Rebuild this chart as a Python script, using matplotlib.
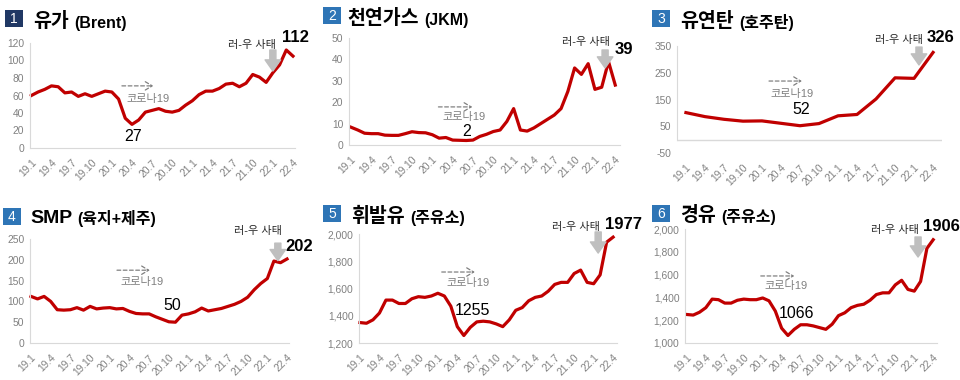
import matplotlib
matplotlib.use("Agg")
import matplotlib.pyplot as plt
from matplotlib.patches import Rectangle
import numpy as np

plt.rcParams['font.family'] = ['Liberation Sans', 'Noto Sans CJK KR', 'DejaVu Sans']
plt.rcParams['axes.unicode_minus'] = False

# ---- data ----
tick_labels = ['19.1', '19.4', '19.7', '19.10', '20.1', '20.4', '20.7', '20.10',
               '21.1', '21.4', '21.7', '21.10', '22.1', '22.4']

brent = [60, 64, 67, 71, 70, 63, 64, 59, 62, 59, 62, 65,
         64, 56, 34, 27, 32, 41, 43, 45, 42, 41, 43, 49,
         54, 61, 65, 65, 68, 73, 74, 70, 74, 84, 81, 75,
         86, 95, 112, 105]
jkm = [8.3, 7.0, 5.5, 5.3, 5.3, 4.6, 4.5, 4.5, 5.3, 6.2, 5.8, 5.7,
       4.8, 3.2, 3.5, 2.3, 2.2, 2.1, 2.3, 4.0, 5.0, 6.3, 7.0, 11,
       17, 7, 6.5, 8, 10, 12, 14, 17, 25, 36, 33, 38,
       26, 27, 39, 28]
coal = [101, 86, 76, 69, 70, 61, 52, 60, 89, 94, 152, 231, 229, 326]
smp = [112, 106, 112, 100, 80, 79, 80, 85, 79, 88, 82, 84,
       85, 82, 83, 76, 71, 70, 70, 63, 57, 51, 50, 67,
       70, 75, 84, 77, 80, 83, 88, 93, 100, 110, 128, 143,
       155, 197, 193, 202]
gasoline = [1350, 1345, 1370, 1420, 1515, 1515, 1490, 1490, 1525, 1540, 1535, 1545,
            1565, 1545, 1470, 1320, 1255, 1315, 1355, 1360, 1355, 1340, 1320, 1370,
            1440, 1460, 1510, 1535, 1545, 1580, 1630, 1645, 1645, 1710, 1735, 1645,
            1635, 1700, 1940, 1977]
diesel = [1250, 1245, 1270, 1310, 1385, 1380, 1350, 1350, 1375, 1385, 1380, 1380,
          1395, 1370, 1280, 1130, 1066, 1120, 1160, 1160, 1150, 1135, 1120, 1165,
          1240, 1265, 1310, 1330, 1340, 1375, 1425, 1440, 1440, 1510, 1550, 1470,
          1455, 1540, 1830, 1906]

W, H = 960, 380
fig = plt.figure(figsize=(9.6, 3.8), dpi=100)

RED = '#c00000'
GRAY = '#808080'
AXC = '#d9d9d9'


def add_ax(x0, x1, ytop, ybot):
    return fig.add_axes([x0 / W, 1 - ybot / H, (x1 - x0) / W, (ybot - ytop) / H])


def header(ax, bx, by, num, main, sub, bcol, tx, tb):
    fig.add_artist(Rectangle((bx / W, 1 - (by + 17) / H), 18 / W, 17 / H,
                             transform=fig.transFigure, fc=bcol, ec='none'))
    fig.text((bx + 9) / W, 1 - (by + 9) / H, num, color='white', fontsize=10,
             ha='center', va='center')
    t = fig.text(tx / W, 1 - tb / H, main, fontsize=14, weight='bold', va='baseline')
    ax.annotate(sub, xy=(1, 0), xycoords=t, xytext=(4, 0), textcoords='offset points',
                fontsize=11.5, weight='bold', va='bottom', annotation_clip=False)


def panel(ax, x, y, ylim, yticks, xlim, xticks, comma=False, zero_line=False):
    ax.plot(x, y, color=RED, lw=2.3, solid_joinstyle='round', clip_on=False)
    ax.set_ylim(*ylim)
    ax.set_xlim(*xlim)
    ax.set_yticks(yticks)
    if comma:
        ax.set_yticklabels([f'{v:,}' for v in yticks])
    ax.set_xticks(xticks)
    ax.set_xticklabels(tick_labels, rotation=45, ha='right', rotation_mode='anchor')
    for s in ['top', 'right']:
        ax.spines[s].set_visible(False)
    for s in ['left', 'bottom']:
        ax.spines[s].set_color(AXC)
    if zero_line:
        ax.spines['bottom'].set_visible(False)
        ax.axhline(0, color=AXC, lw=1)
        ax.spines['left'].set_bounds(0, ylim[1])
    ax.tick_params(length=0, labelsize=7.4, labelcolor=GRAY)
    ax.tick_params(axis='x', pad=7)
    ax.tick_params(axis='y', pad=4)


def notes(ax, corona, low, war, peak):
    (cx1, cx2, cy), (tx, ty) = corona[0], corona[1]
    ax.annotate('', xy=(cx2, cy), xytext=(cx1, cy), annotation_clip=False,
                arrowprops=dict(arrowstyle='->,head_length=0.5,head_width=0.3',
                                color=GRAY, lw=0.9, linestyle=(0, (3, 2)),
                                shrinkA=0, shrinkB=0))
    ax.text(tx, ty, '코로나19', color=GRAY, fontsize=8, ha='center', va='center')
    ax.text(low[0], low[1], low[2], fontsize=11.5, ha='center', va='center', color='black')
    wx, wy, ax_x, ay1, ay2 = war
    ax.text(wx, wy, '러-우 사태', fontsize=8, ha='center', va='center',
            color='#262626', clip_on=False)
    ax.annotate('', xy=(ax_x, ay2), xytext=(ax_x, ay1), annotation_clip=False,
                arrowprops=dict(arrowstyle='simple,head_length=1.0,head_width=1.4,tail_width=0.55',
                                color='#bfbfbf', mutation_scale=8, shrinkA=0, shrinkB=0))
    ax.text(peak[0], peak[1], peak[2], fontsize=12, weight='bold', ha='center',
            va='center', color='black', clip_on=False)


m = np.arange(40)
mt = np.arange(0, 40, 3)
q = np.arange(14)

# 1 Brent
ax1 = add_ax(30, 295, 43, 148)
panel(ax1, m, brent, (0, 120), range(0, 121, 20), (-0.2, 39.3), mt)
header(ax1, 5, 10, '1', '유가', '(Brent)', '#203864', 33, 27)
notes(ax1, ((13.5, 18.2, 71), (17.4, 56)), (15.2, 12.6, '27'),
      (32.9, 118, 36.0, 112, 88), (39.3, 126, '112'))

# 2 JKM
ax2 = add_ax(349, 620, 38, 145)
panel(ax2, m, jkm, (0, 50), range(0, 51, 10), (-0.3, 39.7), mt)
header(ax2, 323, 7, '2', '천연가스', '(JKM)', '#2e75b6', 347, 24)
notes(ax2, ((12.9, 17.9, 17.8), (16.7, 13.1)), (17.0, 6.5, '2'),
      (34.6, 48.1, 37.5, 44.4, 36), (40.3, 44.4, '39'))

# 3 coal (quarterly)
ax3 = add_ax(677, 942, 46, 153)
panel(ax3, q, coal, (-50, 350), range(-50, 351, 100), (-0.47, 13.47), q, zero_line=True)
header(ax3, 652, 10, '3', '유연탄', '(호주탄)', '#2e75b6', 680, 27)
notes(ax3, ((4.37, 6.1, 219), (5.6, 170)), (6.05, 111, '52'),
      (11.2, 372, 12.26, 346, 279), (13.4, 380, '326'))

# 4 SMP
ax4 = add_ax(30, 289, 239, 343)
panel(ax4, m, smp, (0, 250), range(0, 251, 50), (-0.15, 39.3), mt)
header(ax4, 3, 208, '4', 'SMP', '(육지+제주)', '#2e75b6', 30, 223)
notes(ax4, ((13.1, 18.1, 175), (16.9, 147)), (21.5, 91, '50'),
      (34.6, 269, 37.6, 240, 198), (40.9, 233, '202'))

# 5 gasoline
ax5 = add_ax(359, 617, 234, 343)
panel(ax5, m, gasoline, (1200, 2000), range(1200, 2001, 200), (-0.15, 39.6), mt, comma=True)
header(ax5, 323, 205, '5', '휘발유', '(주유소)', '#2e75b6', 351, 222)
notes(ax5, ((12.6, 17.7, 1721), (16.6, 1640)), (17.4, 1442, '1255'),
      (33.3, 2051, 36.7, 2015, 1860), (40.6, 2073, '1977'))

# 6 diesel
ax6 = add_ax(685, 937, 229, 343)
panel(ax6, m, diesel, (1000, 2000), range(1000, 2001, 200), (-0.3, 39.6), mt, comma=True)
header(ax6, 652, 205, '6', '경유', '(주유소)', '#2e75b6', 680, 221)
notes(ax6, ((11.7, 17.0, 1588), (15.7, 1500)), (17.3, 1263, '1066'),
      (32.9, 1991, 36.6, 1930, 1754), (40.3, 2018, '1906'))

fig.savefig('out.png', dpi=100)
